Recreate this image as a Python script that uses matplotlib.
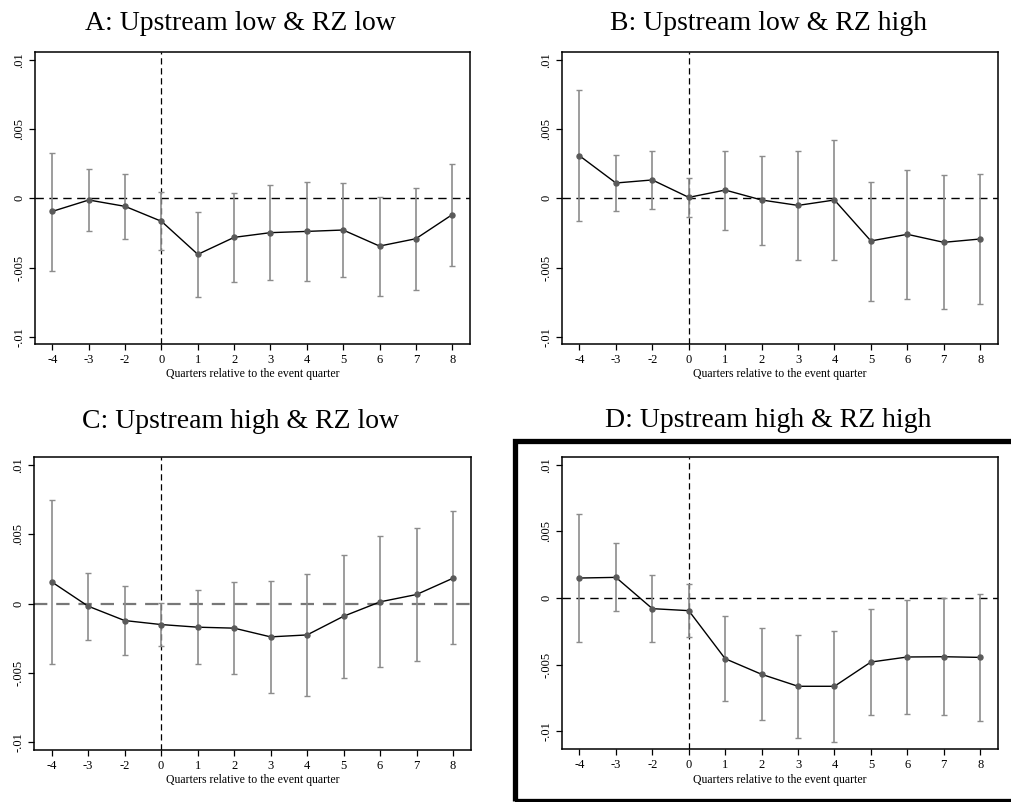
import numpy as np
import matplotlib.pyplot as plt
from matplotlib.patches import Rectangle

plt.rcParams['font.family'] = ['Liberation Serif', 'DejaVu Serif']

# event-time categories (quarter -1 is the omitted reference)
quarters = ['-4', '-3', '-2', '0', '1', '2', '3', '4', '5', '6', '7', '8']

# point estimates and 95% CI bounds for each subsample
coef_a = [-0.00094, -0.00012, -0.00058, -0.00166, -0.00405, -0.00282, -0.00248, -0.00239, -0.00229, -0.00345, -0.00292, -0.00118]
hi_a = [0.00330, 0.00212, 0.00178, 0.00043, -0.00096, 0.00041, 0.00094, 0.00120, 0.00108, 0.00012, 0.00075, 0.00251]
lo_a = [-0.00523, -0.00234, -0.00292, -0.00373, -0.00713, -0.00602, -0.00593, -0.00598, -0.00569, -0.00704, -0.00660, -0.00487]

coef_b = [0.00308, 0.00111, 0.00133, 0.00007, 0.00060, -0.00012, -0.00051, -0.00012, -0.00308, -0.00260, -0.00318, -0.00294]
hi_b = [0.00786, 0.00311, 0.00345, 0.00145, 0.00345, 0.00308, 0.00345, 0.00422, 0.00118, 0.00205, 0.00166, 0.00178]
lo_b = [-0.00164, -0.00092, -0.00080, -0.00133, -0.00227, -0.00335, -0.00446, -0.00446, -0.00740, -0.00725, -0.00800, -0.00766]

coef_c = [0.00157, -0.00019, -0.00123, -0.00152, -0.00171, -0.00178, -0.00241, -0.00227, -0.00092, 0.00012, 0.00065, 0.00183]
hi_c = [0.00749, 0.00222, 0.00123, 0.00001, 0.00101, 0.00152, 0.00164, 0.00210, 0.00349, 0.00484, 0.00545, 0.00665]
lo_c = [-0.00439, -0.00267, -0.00371, -0.00306, -0.00439, -0.00508, -0.00643, -0.00670, -0.00540, -0.00460, -0.00417, -0.00296]

coef_d = [0.00150, 0.00155, -0.00080, -0.00095, -0.00456, -0.00573, -0.00663, -0.00663, -0.00481, -0.00443, -0.00441, -0.00446]
hi_d = [0.00633, 0.00413, 0.00173, 0.00105, -0.00133, -0.00228, -0.00275, -0.00245, -0.00085, -0.00015, -0.00003, 0.00033]
lo_d = [-0.00330, -0.00100, -0.00330, -0.00295, -0.00774, -0.00919, -0.01051, -0.01081, -0.00881, -0.00871, -0.00876, -0.00924]

titles = ['A: Upstream low & RZ low', 'B: Upstream low & RZ high',
          'C: Upstream high & RZ low', 'D: Upstream high & RZ high']

W, H = 1011, 802
fig = plt.figure(figsize=(W / 100, H / 100), dpi=100)


def add_panel(rect_px, coef, hi, lo, title, title_xy, ylim, zero_color='black', zero_lw=1.0):
    l, t, r, b = rect_px
    ax = fig.add_axes([l / W, 1 - b / H, (r - l) / W, (b - t) / H])
    x = np.arange(len(quarters))
    coef = np.array(coef)
    err = [coef - np.array(lo), np.array(hi) - coef]

    ax.axhline(0, color=zero_color, lw=zero_lw, dashes=(6, 4), zorder=1)
    ax.axvline(quarters.index('0'), color='black', lw=0.9, dashes=(5, 3), zorder=1)
    ax.errorbar(x, coef, yerr=err, fmt='none', ecolor='#8c8c8c', elinewidth=1.2,
                capsize=2.0, capthick=1.0, zorder=2)
    ax.plot(x, coef, color='black', lw=1.0, marker='o', markersize=3.6,
            markerfacecolor='#5a5a5a', markeredgecolor='#5a5a5a', zorder=3)

    ax.set_xlim(-0.48, 11.49)
    ax.set_ylim(*ylim)
    ax.set_xticks(x)
    ax.set_xticklabels(quarters)
    ax.set_yticks([-0.01, -0.005, 0, 0.005, 0.01])
    ax.set_yticklabels(['-.01', '-.005', '0', '.005', '.01'], rotation=90, va='center')
    ax.tick_params(axis='both', labelsize=9, length=4, width=0.9, pad=3, direction='out')
    ax.set_xlabel('Quarters relative to the event quarter', fontsize=8.5, labelpad=2)
    for s in ax.spines.values():
        s.set_linewidth(1.1)

    fig.text(title_xy[0] / W, 1 - title_xy[1] / H, title, fontsize=20,
             ha='center', va='baseline')
    return ax


add_panel((35, 52, 470, 344), coef_a, hi_a, lo_a, titles[0], (240, 30), (-0.01053, 0.01058))
add_panel((562, 52, 998, 344), coef_b, hi_b, lo_b, titles[1], (768, 30), (-0.01053, 0.01058))
add_panel((34, 457, 471, 750), coef_c, hi_c, lo_c, titles[2], (240, 428), (-0.01058, 0.01058),
          zero_color='#777777', zero_lw=1.6)
add_panel((562, 457, 998, 749), coef_d, hi_d, lo_d, titles[3], (768, 427), (-0.01134, 0.01059))

# heavy border around the last panel
fig.patches.append(Rectangle((515 / W, 1 - 800.5 / H), 520 / W, 360 / H,
                             transform=fig.transFigure, fill=False,
                             edgecolor='black', lw=3.8, clip_on=False))

fig.savefig('out.png', dpi=100)
